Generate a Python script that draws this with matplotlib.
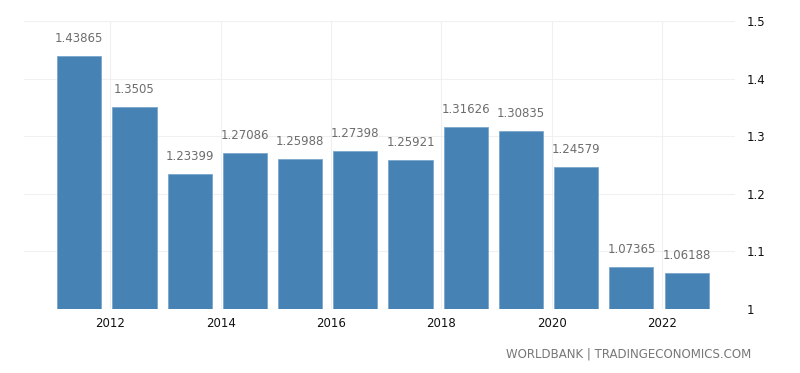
import matplotlib
matplotlib.use("Agg")
import matplotlib.pyplot as plt

years = [2011, 2012, 2013, 2014, 2015, 2016, 2017, 2018, 2019, 2020, 2021, 2022]
values = [1.43865, 1.3505, 1.23399, 1.27086, 1.25988, 1.27398, 1.25921,
          1.31626, 1.30835, 1.24579, 1.07365, 1.06188]
labels = ["1.43865", "1.3505", "1.23399", "1.27086", "1.25988", "1.27398",
          "1.25921", "1.31626", "1.30835", "1.24579", "1.07365", "1.06188"]
xticks = [2012, 2014, 2016, 2018, 2020, 2022]
yticks = [1.0, 1.1, 1.2, 1.3, 1.4, 1.5]
ytick_labels = ["1", "1.1", "1.2", "1.3", "1.4", "1.5"]

plt.rcParams['font.family'] = ['DejaVu Sans']

fig = plt.figure(figsize=(8, 3.73), dpi=100)
ax = fig.add_axes([0.03, 0.1716, 0.889, 0.772])

# bars start just after Jan 1 and cover most of the year
x = [y + 0.44 for y in years]
bars = ax.bar(x, [v - 1.0 for v in values], bottom=1.0, width=0.8,
              color='#4682b4', edgecolor='#7aa7cc', linewidth=0.6, zorder=2)

for xi, v, lab in zip(x, values, labels):
    ax.text(xi, v + 0.019, lab, ha='center', va='bottom', fontsize=8.5,
            color='#6d6d6d')

ax.set_xlim(2010.44, 2023.32)
ax.set_ylim(1.0, 1.5)
ax.set_xticks(xticks)
ax.set_xticklabels([str(t) for t in xticks])
ax.set_yticks(yticks)
ax.set_yticklabels(ytick_labels)
ax.yaxis.tick_right()
ax.tick_params(axis='both', length=0, labelsize=8.5, colors='#111111')
ax.tick_params(axis='y', pad=8)
ax.tick_params(axis='x', pad=6)
ax.grid(True, color='#f0f0f0', linewidth=0.8, zorder=0)
ax.set_axisbelow(True)
for s in ax.spines.values():
    s.set_visible(False)

fig.text(0.939, 0.05, "WORLDBANK | TRADINGECONOMICS.COM", ha='right', va='center',
         fontsize=8.5, color='#777777')

fig.savefig("out.png", dpi=100)
